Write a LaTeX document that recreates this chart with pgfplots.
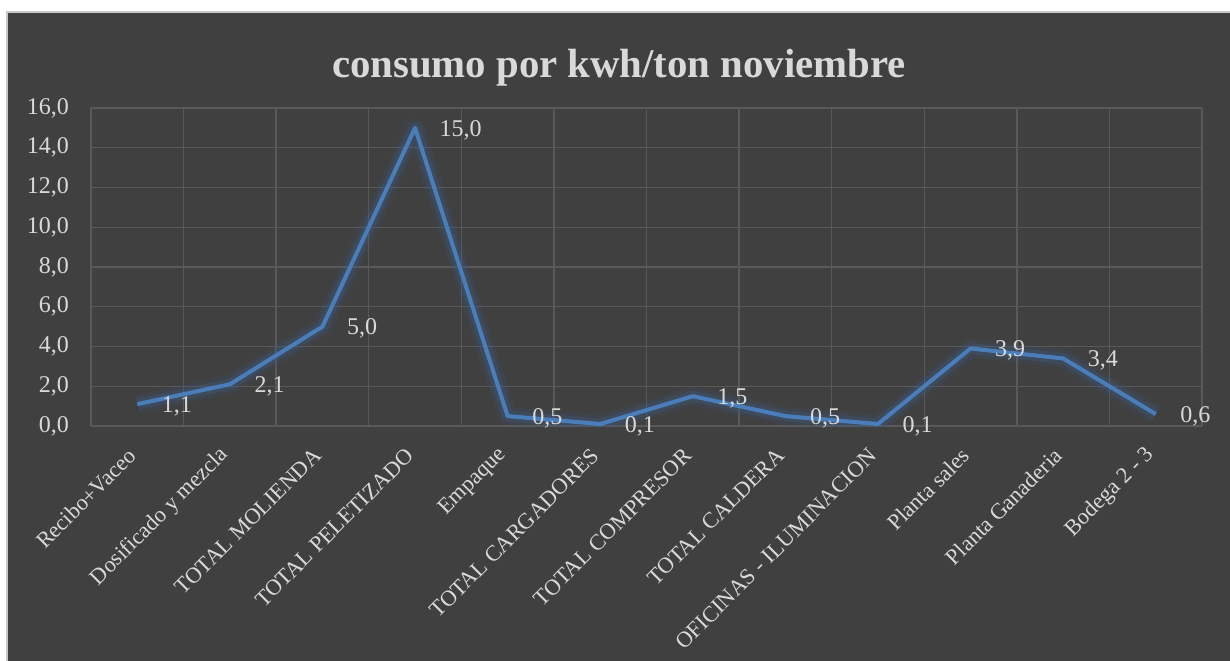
\documentclass[border=0pt]{standalone}
\usepackage{fontspec}
\setmainfont{Liberation Serif}
\usepackage{pgfplots}
\usepackage{pgfplotstable}
\pgfplotsset{compat=1.18}

\definecolor{chartbg}{HTML}{404040}
\definecolor{framegray}{HTML}{C8C8C8}
\definecolor{gridgray}{HTML}{595959}
\definecolor{txtgray}{HTML}{D9D9D9}
\definecolor{lineblue}{HTML}{4A7EBB}
\definecolor{glowblue}{HTML}{3A5F8C}

% consumo por kwh/ton, noviembre
\pgfplotstableread{
x y
1  1.1
2  2.1
3  5.0
4  15.0
5  0.5
6  0.1
7  1.5
8  0.5
9  0.1
10 3.9
11 3.4
12 0.6
}\consumo

\begin{document}
\begin{tikzpicture}
\useasboundingbox (0,0) rectangle (615pt,-330pt);
\fill[white] (0,0) rectangle (615pt,-330pt);
\filldraw[fill=chartbg, draw=framegray, line width=0.6pt] (3.5pt,-6pt) rectangle (622pt,-337pt);

\node[anchor=base, font=\bfseries\fontsize{20.4}{24}\selectfont, text=txtgray]
  at (309.5pt,-38.5pt) {consumo por kwh/ton noviembre};

\begin{axis}[
    at={(45.5pt,-213pt)}, anchor=south west,
    scale only axis,
    width=555.5pt, height=159pt,
    xmin=0.5, xmax=12.5,
    ymin=0, ymax=16,
    xtick={1,...,12},
    xticklabels={Recibo+Vaceo, Dosificado y mezcla, TOTAL MOLIENDA, TOTAL PELETIZADO,
      Empaque, TOTAL CARGADORES, TOTAL COMPRESOR, TOTAL CALDERA,
      OFICINAS - ILUMINACION, Planta sales, Planta Ganaderia, Bodega 2 - 3},
    minor xtick={0.5,1.5,...,12.5},
    ytick={0,2,...,16},
    xminorgrids=true, ymajorgrids=true,
    grid style={gridgray, line width=0.7pt},
    minor grid style={gridgray, line width=0.7pt},
    major tick length=0pt, minor tick length=0pt,
    axis line style={draw=none},
    tick style={draw=none},
    /pgf/number format/assume math mode=true,
    yticklabel style={font=\fontsize{12}{14}\selectfont, text=txtgray,
      /pgf/number format/.cd, fixed, fixed zerofill, precision=1, use comma},
    yticklabel shift=7.5pt,
    xticklabel style={rotate=45, anchor=east, font=\fontsize{11.2}{13}\selectfont, text=txtgray},
    xticklabel shift=10.5pt,
    clip mode=individual,
]
\addplot[glowblue, line width=9pt, opacity=0.16, line join=round, forget plot] table[x=x,y=y]{\consumo};
\addplot[glowblue, line width=5.5pt, opacity=0.28, line join=round, forget plot] table[x=x,y=y]{\consumo};
\addplot[lineblue, line width=2pt, line join=round,
    point meta=y,
    nodes near coords={\pgfmathprintnumber[fixed, fixed zerofill, precision=1, use comma]{\pgfplotspointmeta}},
    every node near coord/.style={anchor=west, xshift=8pt, yshift=-1pt,
      font=\fontsize{12}{14}\selectfont, text=txtgray},
] table[x=x,y=y]{\consumo};
\end{axis}
\end{tikzpicture}
\end{document}
